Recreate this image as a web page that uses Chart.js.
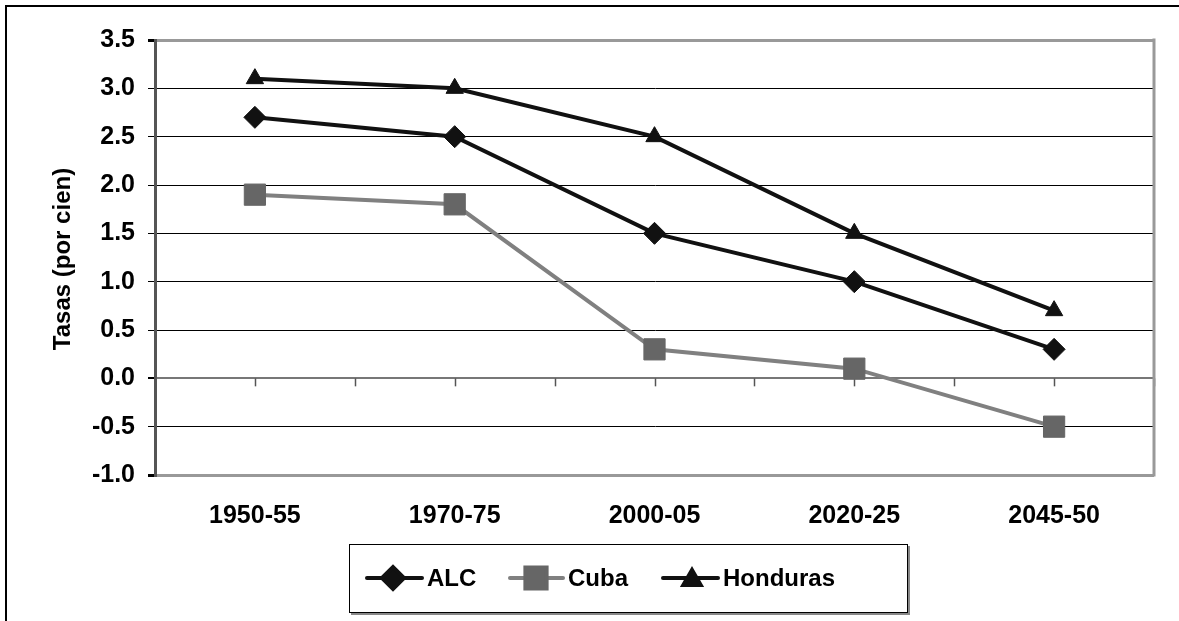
<!DOCTYPE html>
<html>
<head>
<meta charset="utf-8">
<script src="https://cdn.jsdelivr.net/npm/chart.js@4"></script>
<style>
  html, body { margin: 0; padding: 0; background: #fff; }
  #wrap { width: 1179px; height: 621px; position: relative; }
</style>
</head>
<body>
<div id="wrap"><canvas id="chart"></canvas></div>
<script>
var periods = ["1950-55", "1970-75", "2000-05", "2020-25", "2045-50"];
var alc = [2.7, 2.5, 1.5, 1.0, 0.3];
var cuba = [1.9, 1.8, 0.3, 0.1, -0.5];
var honduras = [3.1, 3.0, 2.5, 1.5, 0.7];
var yTitle = "Tasas (por cien)";

var FONT = "'Liberation Sans', Arial, sans-serif";

// frame, zero axis ticks, right border, y title and boxed legend
var extras = {
  id: "extras",
  beforeDatasetsDraw: function (chart) {
    var ctx = chart.ctx;
    var area = chart.chartArea;
    var y0 = chart.scales.y.getPixelForValue(0);
    var step = (area.right - area.left) / (periods.length * 2);
    ctx.save();
    ctx.strokeStyle = "#555";
    ctx.lineWidth = 1.5;
    for (var k = 1; k <= periods.length * 2; k++) {
      var x = Math.round(area.left + k * step) + 0.5;
      ctx.beginPath();
      ctx.moveTo(x, y0);
      ctx.lineTo(x, y0 + 8);
      ctx.stroke();
    }
    ctx.strokeStyle = "#999";
    ctx.lineWidth = 3;
    ctx.beginPath();
    ctx.moveTo(area.right, area.top - 1.5);
    ctx.lineTo(area.right, area.bottom + 1.5);
    ctx.stroke();
    ctx.restore();
  },
  afterDraw: function (chart) {
    var ctx = chart.ctx;
    var area = chart.chartArea;
    ctx.save();
    // outer frame
    ctx.strokeStyle = "#000";
    ctx.lineWidth = 2;
    ctx.strokeRect(6, 6, 1300, 800);

    // y title
    ctx.fillStyle = "#000";
    ctx.font = "bold 24px " + FONT;
    ctx.textAlign = "center";
    ctx.textBaseline = "middle";
    ctx.translate(63, 259);
    ctx.rotate(-Math.PI / 2);
    ctx.fillText(yTitle, 0, 0);
    ctx.restore();

    // legend
    ctx.save();
    ctx.strokeStyle = "#888";
    ctx.lineWidth = 2;
    ctx.beginPath();
    ctx.moveTo(909, 546);
    ctx.lineTo(909, 614);
    ctx.lineTo(351, 614);
    ctx.stroke();
    ctx.strokeStyle = "#000";
    ctx.lineWidth = 1;
    ctx.strokeRect(349.5, 544.5, 558, 68);
    var items = [
      { lx1: 367, lx2: 422, mx: 393, tx: 427 },
      { lx1: 510, lx2: 563, mx: 536, tx: 568 },
      { lx1: 663, lx2: 718, mx: 692, tx: 723 },
    ];
    var ly = 578;
    chart.data.datasets.forEach(function (ds, i) {
      var it = items[i];
      ctx.strokeStyle = ds.borderColor;
      ctx.lineWidth = ds.borderWidth;
      ctx.lineCap = "round";
      ctx.beginPath();
      ctx.moveTo(it.lx1, ly);
      ctx.lineTo(it.lx2, ly);
      ctx.stroke();
      ctx.fillStyle = ds.pointBackgroundColor;
      ctx.strokeStyle = ds.pointBorderColor;
      Chart.helpers.drawPoint(ctx, {
        pointStyle: ds.pointStyle,
        radius: ds.pointRadius,
        rotation: 0,
        borderWidth: 1,
      }, it.mx, ly + (ds.pointStyle === "triangle" ? 2 : 0));
      ctx.fillStyle = "#000";
      ctx.font = "bold 24px " + FONT;
      ctx.textAlign = "left";
      ctx.textBaseline = "middle";
      ctx.fillText(ds.label, it.tx, ly + 1);
    });
    ctx.restore();
  },
};

new Chart(document.getElementById("chart"), {
  type: "line",
  data: {
    labels: periods,
    datasets: [
      {
        label: "ALC",
        data: alc,
        borderColor: "#111",
        borderWidth: 4,
        pointStyle: "rectRot",
        pointRadius: 11,
        pointBackgroundColor: "#111",
        pointBorderColor: "#111",
        pointBorderWidth: 1,
      },
      {
        label: "Cuba",
        data: cuba,
        borderColor: "#808080",
        borderWidth: 4,
        pointStyle: "rect",
        pointRadius: 15,
        pointBackgroundColor: "#666",
        pointBorderColor: "#666",
        pointBorderWidth: 1,
      },
      {
        label: "Honduras",
        data: honduras,
        borderColor: "#111",
        borderWidth: 4,
        pointStyle: "triangle",
        pointRadius: 10,
        pointBackgroundColor: "#111",
        pointBorderColor: "#111",
        pointBorderWidth: 1,
      },
    ],
  },
  options: {
    responsive: true,
    maintainAspectRatio: false,
    animation: false,
    layout: {
      padding: { top: 40, right: 25, left: 0, bottom: 0 },
    },
    elements: {
      line: { tension: 0 },
    },
    scales: {
      x: {
        offset: true,
        grid: { display: false, drawTicks: false },
        border: { display: false },
        ticks: {
          color: "#000",
          padding: 26,
          font: { family: FONT, size: 25, weight: "bold" },
        },
        afterFit: function (scale) {
          scale.height = 146;
        },
      },
      y: {
        min: -1,
        max: 3.5,
        ticks: {
          stepSize: 0.5,
          color: "#000",
          padding: 13,
          font: { family: FONT, size: 25, weight: "bold" },
          callback: function (v) {
            return v.toFixed(1);
          },
        },
        grid: {
          tickLength: 7,
          tickColor: "#000",
          color: function (c) {
            var v = c.tick && c.tick.value;
            if (v === 3.5 || v === -1) return "#999";
            if (v === 0) return "#777";
            return "#000";
          },
          lineWidth: function (c) {
            var v = c.tick && c.tick.value;
            if (v === 3.5 || v === -1) return 3;
            if (v === 0) return 2;
            return 1;
          },
        },
        border: { color: "#555", width: 3 },
        afterFit: function (scale) {
          scale.width = 155;
        },
      },
    },
    plugins: {
      legend: { display: false },
      tooltip: { enabled: false },
    },
  },
  plugins: [extras],
});
</script>
</body>
</html>
